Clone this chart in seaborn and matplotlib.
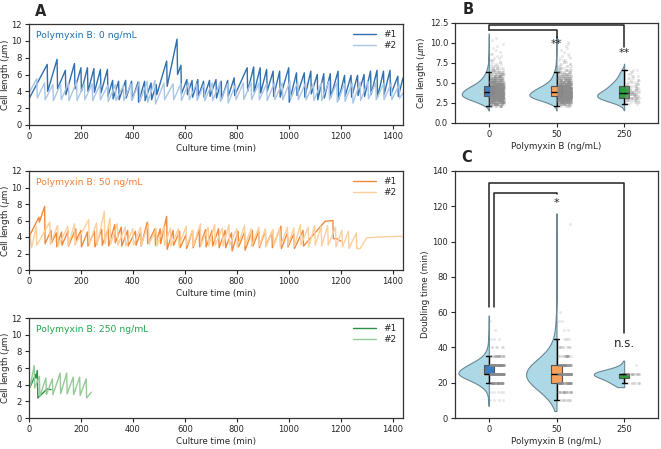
import numpy as np
import pandas as pd
import matplotlib
matplotlib.use('Agg')
import matplotlib.pyplot as plt
import seaborn as sns

sns.set_style('ticks')
plt.rcParams['font.family'] = ['DejaVu Sans']
plt.rcParams['axes.edgecolor'] = '#333333'
plt.rcParams['axes.linewidth'] = 0.9

# ---- panel A: cell length traces, (peak time, peak length, length after division)
start_0_1 = [(0, 3.1)]
peaks_0_1 = [(70, 7.2, 4.0), (108, 7.8, 4.3), (140, 6.5, 3.6), (175, 7.3, 4.3), (200, 6.8, 4.0),
             (225, 6.8, 4.0), (250, 6.7, 3.9), (275, 6.6, 3.8), (302, 6.6, 3.4), (322, 5.3, 3.1),
             (345, 5.2, 3.0), (372, 5.3, 3.2), (395, 5.2, 3.0), (420, 5.1, 2.7), (445, 5.2, 2.9),
             (470, 5.0, 3.0), (490, 4.8, 3.6), (530, 7.6, 4.6), (570, 10.2, 6.0), (585, 7.1, 3.7),
             (608, 5.4, 3.6), (628, 5.3, 3.3), (650, 5.4, 3.4), (672, 5.2, 3.3), (695, 5.3, 3.4),
             (720, 5.4, 3.2), (740, 5.2, 3.1), (765, 5.3, 3.4), (790, 5.6, 3.5), (840, 6.8, 4.0),
             (865, 6.9, 3.9), (890, 6.8, 3.8), (915, 6.6, 4.0), (940, 6.4, 3.4), (965, 6.4, 3.3),
             (1000, 6.8, 2.7), (1030, 6.2, 3.5), (1060, 6.2, 3.3), (1085, 6.4, 3.7), (1110, 6.0, 3.0),
             (1135, 6.1, 3.2), (1160, 6.1, 3.3), (1190, 6.4, 3.0), (1215, 5.9, 3.4), (1240, 5.9, 3.3),
             (1265, 5.9, 3.5), (1290, 6.0, 3.4), (1315, 6.4, 3.6), (1340, 6.5, 3.3), (1365, 6.4, 3.6),
             (1390, 6.5, 3.5), (1420, 5.8, 3.4)]
end_0_1 = [(1440, 5.6)]

start_0_2 = [(0, 3.8)]
peaks_0_2 = [(30, 5.5, 3.2), (60, 5.0, 3.0), (92, 4.8, 2.9), (122, 4.9, 3.0), (152, 5.0, 2.9),
             (183, 5.1, 2.9), (213, 4.9, 3.0), (243, 4.9, 2.9), (273, 4.8, 3.0), (303, 4.7, 2.8),
             (333, 4.8, 2.9), (363, 4.7, 2.9), (393, 4.9, 2.9), (425, 5.1, 2.8), (455, 5.2, 2.7),
             (485, 5.3, 2.5), (520, 5.0, 3.0), (555, 4.9, 3.0), (585, 4.9, 2.9), (615, 5.0, 3.0),
             (645, 4.9, 2.9), (675, 4.9, 2.9), (705, 5.0, 2.9), (735, 5.0, 2.8), (765, 4.9, 2.6),
             (795, 4.8, 3.0), (825, 5.0, 3.0), (855, 5.1, 3.0), (885, 5.0, 3.0), (915, 4.9, 2.9),
             (945, 5.0, 3.0), (975, 5.0, 3.0), (1005, 5.2, 3.1), (1035, 5.1, 3.0), (1065, 5.0, 3.0),
             (1095, 4.9, 2.9), (1125, 5.0, 2.9), (1155, 5.2, 3.0), (1185, 5.0, 2.7), (1215, 4.9, 2.8),
             (1245, 5.0, 2.6), (1275, 5.1, 2.9), (1305, 5.2, 3.1), (1335, 5.0, 3.0), (1365, 4.9, 3.0),
             (1395, 5.0, 3.0), (1425, 4.8, 3.2)]
end_0_2 = [(1440, 3.8)]

start_50_1 = [(0, 4.0)]
peaks_50_1 = [(38, 6.4, 5.8), (60, 7.7, 3.2), (85, 4.8, 3.3), (105, 4.5, 2.8), (125, 4.6, 3.0),
              (150, 4.7, 2.9), (180, 5.0, 3.6), (200, 4.8, 2.8), (225, 4.6, 2.9), (252, 4.7, 2.8),
              (280, 4.9, 3.0), (305, 5.0, 2.9), (330, 5.5, 3.3), (355, 5.2, 2.9), (380, 4.8, 2.9),
              (410, 4.7, 3.0), (430, 4.6, 2.9), (455, 5.8, 3.2), (485, 5.0, 3.0), (505, 5.0, 3.2),
              (530, 6.5, 2.5), (555, 4.8, 3.0), (580, 4.7, 2.7), (605, 4.3, 2.6), (630, 4.8, 2.7),
              (655, 4.9, 2.8), (680, 4.9, 2.8), (705, 4.8, 2.9), (730, 5.0, 2.7), (755, 4.8, 2.7),
              (780, 4.5, 2.3), (805, 4.7, 2.8), (830, 4.6, 2.4), (860, 4.8, 2.9), (885, 4.7, 2.7),
              (910, 4.8, 2.9), (935, 4.6, 2.7), (970, 5.3, 2.6), (995, 4.5, 2.8), (1020, 4.4, 2.6),
              (1055, 4.8, 2.9), (1140, 5.9, 5.9), (1170, 6.0, 3.8)]
end_50_1 = [(1185, 3.8), (1200, 3.5)]

start_50_2 = [(0, 5.1), (10, 2.7)]
peaks_50_2 = [(28, 5.3, 3.0), (80, 5.8, 3.1), (110, 5.4, 2.9), (150, 5.3, 3.0), (175, 5.6, 3.0),
              (230, 6.1, 3.1), (260, 5.7, 3.0), (290, 7.1, 3.2), (312, 6.3, 3.1), (340, 5.6, 3.0),
              (370, 5.2, 2.9), (400, 5.0, 3.0), (430, 5.2, 3.0), (460, 5.6, 3.1), (490, 5.0, 2.9),
              (520, 5.3, 3.0), (545, 5.1, 2.9), (575, 5.0, 2.9), (605, 5.3, 3.0), (630, 4.8, 2.9),
              (660, 5.6, 3.0), (690, 5.2, 2.9), (715, 5.5, 3.0), (745, 5.1, 2.9), (770, 5.5, 3.0),
              (800, 5.0, 2.8), (830, 5.4, 3.0), (855, 5.0, 2.9), (885, 5.2, 2.9), (910, 5.0, 2.8),
              (940, 4.9, 2.9), (965, 5.0, 2.8), (995, 5.2, 3.0), (1020, 5.1, 2.9), (1045, 5.5, 3.0),
              (1075, 5.2, 2.8), (1100, 5.4, 3.0), (1125, 5.3, 2.9), (1150, 5.4, 3.0), (1180, 5.2, 2.8),
              (1205, 4.8, 2.8), (1230, 4.7, 2.6), (1260, 4.5, 2.6)]
end_50_2 = [(1275, 2.6), (1300, 3.9), (1350, 4.0), (1440, 4.1)]

start_250_1 = [(0, 4.1), (4, 3.7)]
peaks_250_1 = [(25, 5.2, 4.8), (32, 5.7, 2.4)]
end_250_1 = [(70, 3.5), (85, 3.4)]

start_250_2 = [(0, 4.6), (5, 3.8)]
peaks_250_2 = [(20, 6.3, 3.6), (40, 5.0, 2.6), (65, 4.8, 2.8), (90, 4.7, 2.8), (120, 5.4, 2.9),
               (145, 5.4, 2.9), (170, 4.9, 2.8), (195, 4.9, 2.7), (220, 4.7, 2.4)]
end_250_2 = [(240, 3.1)]

# ---- panel B: cell length histograms (bin centres, counts)
len_bins = [2.125, 2.375, 2.625, 2.875, 3.125, 3.375, 3.625, 3.875, 4.125, 4.375, 4.625, 4.875,
            5.125, 5.375, 5.625, 5.875, 6.125, 6.375, 6.625, 6.875, 7.125, 7.375, 7.625, 7.875,
            8.125, 8.375, 8.625, 8.875, 9.125, 9.375, 9.625, 9.875, 10.125, 10.375, 10.625]
len_n_0 = [15, 35, 55, 80, 110, 125, 125, 120, 110, 95, 80, 62, 48, 38, 30, 24, 18, 14, 10, 8,
           5, 4, 3, 3, 2, 2, 2, 1, 1, 1, 1, 1, 0, 1, 1]
len_n_50 = [8, 25, 50, 80, 120, 135, 130, 120, 105, 88, 70, 52, 40, 30, 24, 19, 15, 12, 9, 6,
            5, 4, 3, 3, 2, 2, 1, 1, 1, 1, 1, 1, 1, 1, 0]
len_n_250 = [0, 3, 6, 10, 14, 14, 14, 10, 9, 8, 7, 6, 5, 4, 3, 3, 2, 2, 2, 0,
             0, 0, 0, 0, 0, 0, 0, 0, 0, 0, 0, 0, 0, 0, 0]

# ---- panel C: doubling time counts
dt_vals = [10, 15, 20, 25, 30, 35, 40, 45, 50, 55, 60, 110]
dt_n_0 = [4, 5, 60, 200, 110, 25, 6, 3, 1, 1, 0, 0]
dt_n_50 = [10, 25, 70, 80, 65, 20, 10, 5, 2, 2, 1, 1]
dt_n_250 = [0, 0, 8, 22, 1, 0, 0, 0, 0, 0, 0, 0]

conc = ['0', '50', '250']
blues = ['#2f6fae', '#a9c6e6']
oranges = ['#f08a3c', '#fdcf9c']
greens = ['#2a9246', '#93cc95']
title_cols = ['#1f6fae', '#f0803a', '#21a84a']
box_cols = ['#3b7dc0', '#f6a25c', '#2e9e3e']


def trace(start, peaks, end):
    t = [p[0] for p in start]
    y = [p[1] for p in start]
    for tp, yp, yd in peaks:
        t += [tp, tp + 2]
        y += [yp, yd]
    t += [p[0] for p in end]
    y += [p[1] for p in end]
    return t, y


fig = plt.figure(figsize=(6.61, 4.49), dpi=100)
W, H = 661, 449


def px_axes(l, t, r, b):
    return fig.add_axes([l / W, 1 - b / H, (r - l) / W, (b - t) / H])


rowsA = [(24, 125), (171, 270), (318, 418)]
series = [
    ('Polymyxin B: 0 ng/mL', blues, title_cols[0],
     [(start_0_1, peaks_0_1, end_0_1), (start_0_2, peaks_0_2, end_0_2)]),
    ('Polymyxin B: 50 ng/mL', oranges, title_cols[1],
     [(start_50_1, peaks_50_1, end_50_1), (start_50_2, peaks_50_2, end_50_2)]),
    ('Polymyxin B: 250 ng/mL', greens, title_cols[2],
     [(start_250_1, peaks_250_1, end_250_1), (start_250_2, peaks_250_2, end_250_2)]),
]
for (top, bot), (title, cols, tcol, tr) in zip(rowsA, series):
    ax = px_axes(29, top, 403, bot)
    for (s, p, e), c, lab in zip(tr, cols, ['#1', '#2']):
        t, y = trace(s, p, e)
        sns.lineplot(x=t, y=y, ax=ax, color=c, lw=1.0, label=lab, sort=False, estimator=None)
    ax.set_xlim(0, 1440)
    ax.set_ylim(0, 12)
    ax.set_yticks(range(0, 13, 2))
    ax.set_xticks(range(0, 1401, 200))
    ax.tick_params(labelsize=6, length=3, width=0.8, pad=2)
    ax.set_xlabel('Culture time (min)', fontsize=6.3, labelpad=2)
    ax.set_ylabel(r'Cell length ($\mu$m)', fontsize=6.3)
    ax.yaxis.set_label_coords(-0.045, 0.5)
    ax.text(0.02, 0.885, title, transform=ax.transAxes, color=tcol, fontsize=6.7, va='center')
    ax.legend(loc='upper right', frameon=False, fontsize=6.5, handlelength=2.6,
              borderaxespad=0.3, labelspacing=0.2)
    for sp in ax.spines.values():
        sp.set_visible(True)


def raincloud(ax, vals, counts_list, bw_adjust, vwidth, cut):
    rows = []
    for lab, counts in zip(conc, counts_list):
        rows.append(pd.DataFrame({'conc': lab, 'val': np.repeat(vals, counts)}))
    df = pd.concat(rows, ignore_index=True)
    sns.violinplot(data=df, x='conc', y='val', order=conc, inner=None,
                   color='#add8e6', linecolor='#6a8795', linewidth=0.8, density_norm='width',
                   width=vwidth, cut=cut, bw_adjust=bw_adjust, saturation=1, ax=ax)
    violins = list(ax.collections)
    sns.boxplot(data=df, x='conc', y='val', order=conc, hue='conc', hue_order=conc,
                palette=box_cols, width=0.15, showfliers=False, saturation=1,
                linecolor='#555555', linewidth=0.8, legend=False,
                whiskerprops=dict(color='k', lw=1), capprops=dict(color='k', lw=1),
                medianprops=dict(color='k', lw=1), ax=ax)
    before = list(ax.collections)
    sns.stripplot(data=df, x='conc', y='val', order=conc, color='#8c8c8c', size=2.2,
                  alpha=0.18, jitter=0.1, linewidth=0, ax=ax)
    strips = [c for c in ax.collections if all(c is not b for b in before)]
    for coll in strips:
        off = np.asarray(coll.get_offsets()).copy()
        off[:, 0] += 0.12
        coll.set_offsets(off)
    # keep only the left half of each violin: fold the right side onto the centre line
    for i, coll in enumerate(violins):
        for path in coll.get_paths():
            v = path.vertices
            v[:, 0] = np.minimum(v[:, 0], float(i))
    ax.set_xlim(-0.5, 2.5)
    ax.tick_params(labelsize=6, length=3, width=0.8, pad=2)
    ax.set_xlabel('Polymyxin B (ng/mL)', fontsize=6.3, labelpad=2)
    for sp in ax.spines.values():
        sp.set_visible(True)


axB = px_axes(455, 23, 658, 123)
raincloud(axB, len_bins, [len_n_0, len_n_50, len_n_250], 1.0, 0.8, 2)
axB.set_ylim(0, 12.5)
axB.set_yticks([0, 2.5, 5, 7.5, 10, 12.5])
axB.set_yticklabels(['0.0', '2.5', '5.0', '7.5', '10.0', '12.5'])
axB.set_ylabel(r'Cell length ($\mu$m)', fontsize=6.3)
axB.yaxis.set_label_coords(-0.135, 0.5)
axB.plot([0, 0, 2, 2], [11.66, 12.29, 12.29, 9.56], color='#222222', lw=1.1)
axB.plot([0, 1, 1], [11.66, 11.66, 10.6], color='#222222', lw=1.1)
axB.text(1, 9.9, '**', ha='center', va='center', fontsize=8)
axB.text(2, 8.75, '**', ha='center', va='center', fontsize=8)

axC = px_axes(455, 171, 658, 418)
raincloud(axC, dt_vals, [dt_n_0, dt_n_50, dt_n_250], 2.0, 0.9, 1)
axC.set_ylim(0, 140)
axC.set_yticks(range(0, 141, 20))
axC.set_ylabel('Doubling time (min)', fontsize=6.3)
axC.yaxis.set_label_coords(-0.123, 0.5)
axC.plot([0, 0, 2, 2], [63, 133.4, 133.4, 48], color='#222222', lw=1.1)
axC.plot([0.08, 0.08, 1, 1], [63, 127.5, 127.5, 126.8], color='#222222', lw=1.1)
axC.text(1, 122, '*', ha='center', va='center', fontsize=8)
axC.text(2, 42, 'n.s.', ha='center', va='center', fontsize=8.5)

fig.text(41 / W, 1 - 11 / H, 'A', fontsize=10.5, fontweight='bold', ha='center', va='center')
fig.text(468 / W, 1 - 10 / H, 'B', fontsize=10.5, fontweight='bold', ha='center', va='center')
fig.text(467 / W, 1 - 157 / H, 'C', fontsize=10.5, fontweight='bold', ha='center', va='center')

fig.savefig('out.png', dpi=100)
